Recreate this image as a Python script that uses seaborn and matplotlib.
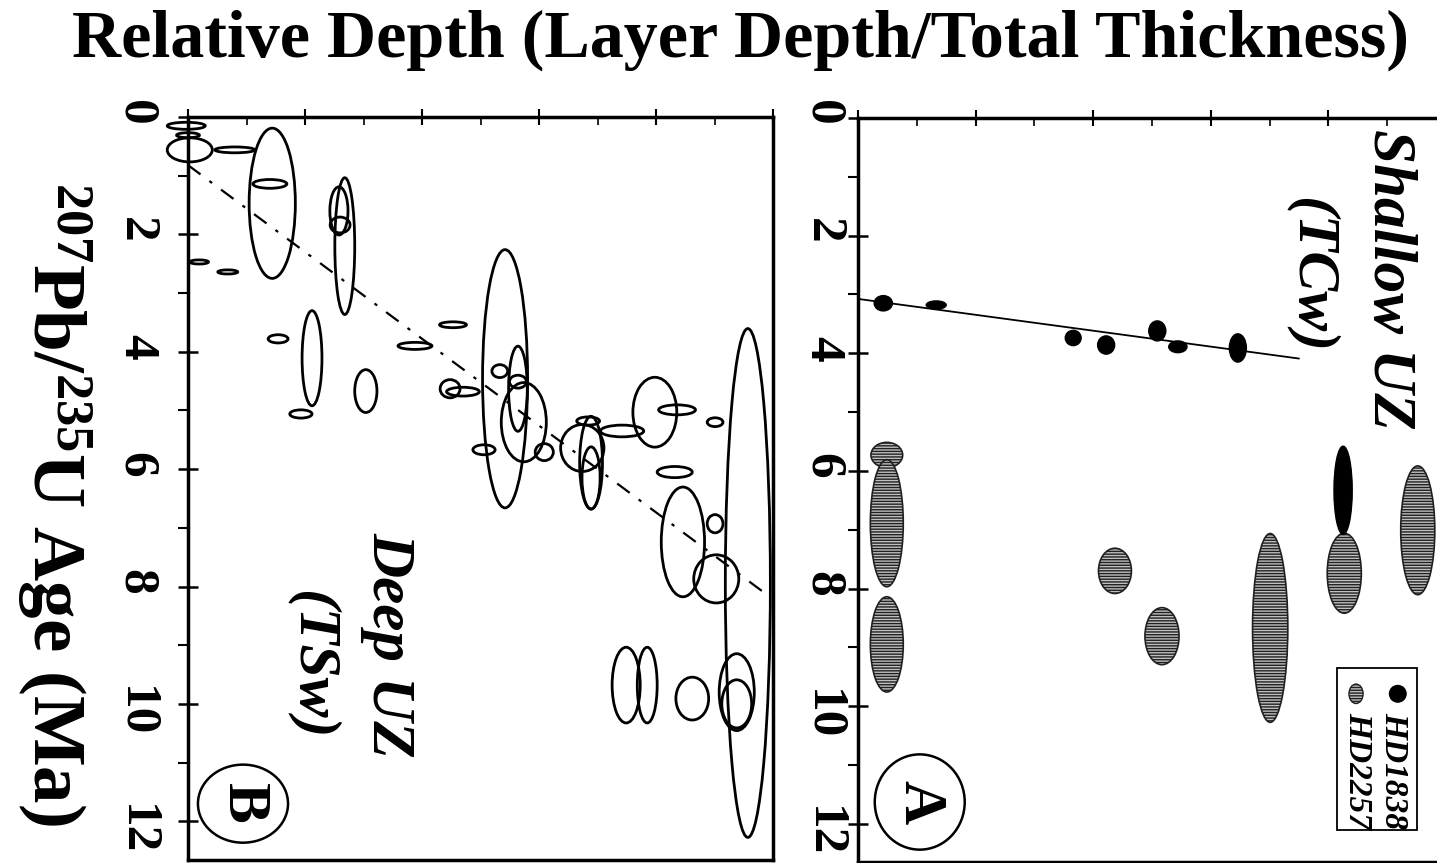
import matplotlib
matplotlib.use("Agg")
import matplotlib.pyplot as plt
from matplotlib.patches import Ellipse
from matplotlib.ticker import MultipleLocator
import seaborn as sns

# Panel B (deep UZ, TSw): open error ellipses, relative depth vs age (Ma)
b_depth = [-0.003, 0.000, 0.003, 0.080, 0.144, 0.140, 0.268, 0.258, 0.260, 0.019, 0.068,
           0.154, 0.212, 0.193, 0.304, 0.388, 0.453, 0.448, 0.470, 0.542, 0.533, 0.564,
           0.564, 0.574, 0.609, 0.506, 0.674, 0.689, 0.684, 0.689, 0.742, 0.798, 0.836,
           0.901, 0.957, 0.832, 0.846, 0.901, 0.903, 0.749, 0.785, 0.862, 0.938, 0.938]
b_age = [0.15, 0.31, 0.56, 0.56, 1.47, 1.14, 2.20, 1.60, 1.84, 2.47, 2.64,
         3.78, 4.11, 5.06, 4.67, 3.90, 3.54, 4.63, 4.68, 4.46, 4.33, 4.63,
         4.51, 5.20, 5.71, 5.67, 5.64, 5.89, 5.18, 6.15, 5.35, 5.03, 4.99,
         5.20, 7.94, 6.05, 7.24, 6.93, 7.87, 9.68, 9.68, 9.91, 9.80, 10.00]
b_depth_err = [0.065, 0.039, 0.077, 0.068, 0.079, 0.058, 0.034, 0.031, 0.034, 0.032, 0.034,
               0.034, 0.034, 0.038, 0.038, 0.058, 0.046, 0.034, 0.056, 0.077, 0.027, 0.032,
               0.029, 0.077, 0.031, 0.038, 0.074, 0.039, 0.039, 0.031, 0.074, 0.075, 0.063,
               0.027, 0.077, 0.060, 0.074, 0.027, 0.077, 0.048, 0.034, 0.056, 0.060, 0.051]
b_age_err = [0.12, 0.085, 0.41, 0.10, 2.56, 0.15, 2.33, 0.82, 0.27, 0.07, 0.07,
             0.14, 1.62, 0.14, 0.73, 0.12, 0.10, 0.31, 0.15, 4.40, 0.22, 1.45,
             0.22, 1.35, 0.29, 0.17, 0.80, 1.58, 0.14, 1.06, 0.20, 1.19, 0.17,
             0.15, 8.67, 0.19, 1.87, 0.31, 0.82, 1.29, 1.29, 0.73, 1.31, 0.82]
b_fit_depth = [0.0, 0.983]
b_fit_age = [0.82, 8.09]

# Panel A (shallow UZ, TCw): HD1838 filled, HD2257 hatched
hd1838_depth = [0.043, 0.133, 0.366, 0.422, 0.509, 0.544, 0.646, 0.825]
hd1838_age = [3.15, 3.18, 3.74, 3.86, 3.62, 3.89, 3.91, 6.33]
hd1838_depth_err = [0.031, 0.034, 0.027, 0.029, 0.029, 0.031, 0.029, 0.031]
hd1838_age_err = [0.26, 0.14, 0.26, 0.31, 0.34, 0.20, 0.48, 1.50]

hd2257_depth = [0.049, 0.049, 0.049, 0.437, 0.517, 0.701, 0.827, 0.952]
hd2257_age = [5.73, 6.89, 8.95, 7.70, 8.81, 8.67, 7.74, 7.01]
hd2257_depth_err = [0.054, 0.056, 0.056, 0.056, 0.058, 0.060, 0.058, 0.058]
hd2257_age_err = [0.43, 2.16, 1.62, 0.77, 0.97, 3.21, 1.36, 2.19]

a_fit_depth = [0.003, 0.75]
a_fit_age = [3.08, 4.09]

age_ticks = [0, 2, 4, 6, 8, 10, 12]

sns.set_style("ticks")
plt.rcParams["font.family"] = ["Liberation Serif", "DejaVu Serif"]
plt.rcParams["font.weight"] = "bold"
plt.rcParams["mathtext.default"] = "regular"
plt.rcParams["hatch.linewidth"] = 1.0
for key in ["text.color", "axes.labelcolor", "xtick.color", "ytick.color", "axes.edgecolor"]:
    plt.rcParams[key] = "black"

W, H = 1437, 863
fig = plt.figure(figsize=(W / 100, H / 100), dpi=100)


def px_axes(x0, y0, x1, y1):
    return fig.add_axes([x0 / W, (H - y1) / H, (x1 - x0) / W, (y1 - y0) / H])


axB = px_axes(188, 117, 773, 860)
axA = px_axes(858, 118, 1446, 862)


def style_axis(ax, ymax, pad):
    ax.set_xlim(0, 1)
    ax.set_ylim(ymax, 0)
    ax.xaxis.tick_top()
    ax.xaxis.set_major_locator(MultipleLocator(0.2))
    ax.xaxis.set_minor_locator(MultipleLocator(0.1))
    ax.yaxis.set_major_locator(MultipleLocator(2))
    ax.yaxis.set_minor_locator(MultipleLocator(1))
    ax.set_yticks(age_ticks)
    ax.tick_params(axis="x", which="major", direction="inout", length=12, width=1.5,
                   labeltop=False, labelbottom=False)
    ax.tick_params(axis="x", which="minor", direction="in", length=6, width=1.2)
    ax.tick_params(axis="y", which="major", direction="inout", length=14, width=1.8,
                   labelsize=37, labelrotation=-90, pad=pad)
    ax.tick_params(axis="y", which="minor", direction="out", length=7, width=1.5)
    for s in ax.spines.values():
        s.set_linewidth(2.5)
    ax.set_xlabel("")
    ax.set_ylabel("")


style_axis(axB, 12.66, 14)
style_axis(axA, 12.65, 2)
axA.spines["right"].set_visible(False)

# panel B ellipses
for d, a, wd, ha in zip(b_depth, b_age, b_depth_err, b_age_err):
    axB.add_patch(Ellipse((d, a), wd, ha, facecolor="none", edgecolor="black",
                          linewidth=2.0, clip_on=False, zorder=3))
sns.lineplot(x=b_fit_depth, y=b_fit_age, ax=axB, color="black", linewidth=1.6,
             dashes=False, linestyle=(0, (7, 5, 1.5, 5)), zorder=2)

# panel A ellipses
for d, a, wd, ha in zip(hd2257_depth, hd2257_age, hd2257_depth_err, hd2257_age_err):
    axA.add_patch(Ellipse((d, a), wd, ha, facecolor="#c0c0c0", edgecolor="#202020",
                          hatch="------", linewidth=1.2, zorder=3))
for d, a, wd, ha in zip(hd1838_depth, hd1838_age, hd1838_depth_err, hd1838_age_err):
    axA.add_patch(Ellipse((d, a), wd, ha, facecolor="black", edgecolor="black",
                          linewidth=1.0, zorder=4))
sns.lineplot(x=a_fit_depth, y=a_fit_age, ax=axA, color="black", linewidth=1.3, zorder=2)

# legend in panel A
axA.add_patch(plt.Rectangle((0.814, 9.35), 0.136, 2.75, facecolor="white",
                            edgecolor="black", linewidth=1.3, zorder=5))
axA.add_patch(Ellipse((0.918, 9.79), 0.033, 0.33, facecolor="black", zorder=6))
axA.add_patch(Ellipse((0.847, 9.79), 0.024, 0.33, facecolor="#c0c0c0", edgecolor="#202020",
                      hatch="------", linewidth=1.0, zorder=6))
axA.text(0.911, 10.1, "HD1838", rotation=-90, ha="center", va="top", fontsize=24,
         fontstyle="italic", fontweight="bold", zorder=7)
axA.text(0.850, 10.1, "HD2257", rotation=-90, ha="center", va="top", fontsize=24,
         fontstyle="italic", fontweight="bold", zorder=7)

# zone labels
axB.text(0.342, 9.0, "Deep UZ", rotation=-90, ha="center", va="center", fontsize=44,
         fontstyle="italic", fontweight="bold")
axB.text(0.212, 9.34, "(TSw)", rotation=-90, ha="center", va="center", fontsize=43,
         fontstyle="italic", fontweight="bold")
axA.text(0.903, 2.74, "Shallow UZ", rotation=-90, ha="center", va="center", fontsize=44,
         fontstyle="italic", fontweight="bold")
axA.text(0.770, 2.67, "(TCw)", rotation=-90, ha="center", va="center", fontsize=43,
         fontstyle="italic", fontweight="bold")

# circled panel letters
axB.add_patch(Ellipse((0.094, 11.70), 0.154, 1.33, facecolor="none", edgecolor="black",
                      linewidth=1.8))
axB.text(0.094, 11.70, "B", rotation=-90, ha="center", va="center", fontsize=44,
         fontweight="bold")
axA.add_patch(Ellipse((0.105, 11.63), 0.153, 1.62, facecolor="none", edgecolor="black",
                      linewidth=1.8))
axA.text(0.105, 11.63, "A", rotation=-90, ha="center", va="center", fontsize=44,
         fontweight="bold")

fig.text(740 / W, 1 - 40 / H, "Relative Depth (Layer Depth/Total Thickness)",
         ha="center", va="center", fontsize=49, fontweight="bold")
fig.text(54 / W, 1 - 504 / H, r"$^{207}$Pb/$^{235}$U Age (Ma)", rotation=-90,
         ha="center", va="center", fontsize=54, fontweight="bold")

fig.savefig("out.png", dpi=100)
